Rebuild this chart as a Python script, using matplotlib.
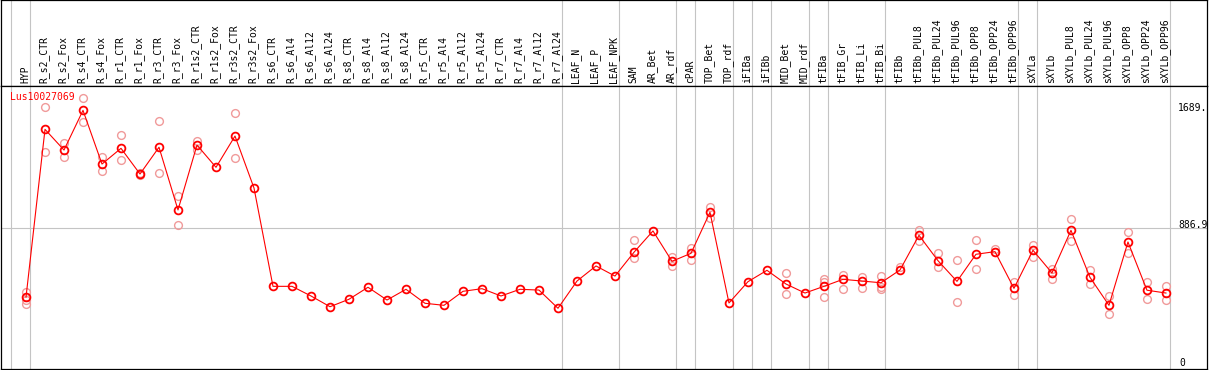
import numpy as np
import matplotlib
matplotlib.use("Agg")
import matplotlib.pyplot as plt

nan = np.nan

# column labels
samples = [
    "HYP",
    "R_s2_CTR", "R_s2_Fox", "R_s4_CTR", "R_s4_Fox", "R_r1_CTR", "R_r1_Fox",
    "R_r3_CTR", "R_r3_Fox", "R_r1s2_CTR", "R_r1s2_Fox", "R_r3s2_CTR", "R_r3s2_Fox",
    "R_s6_CTR", "R_s6_Al4", "R_s6_Al12", "R_s6_Al24", "R_s8_CTR", "R_s8_Al4",
    "R_s8_Al12", "R_s8_Al24", "R_r5_CTR", "R_r5_Al4", "R_r5_Al12", "R_r5_Al24",
    "R_r7_CTR", "R_r7_Al4", "R_r7_Al12", "R_r7_Al24",
    "LEAF_N", "LEAF_P", "LEAF_NPK",
    "SAM", "AR_Bet", "AR_rdf",
    "cPAR",
    "TOP_Bet", "TOP_rdf",
    "iFIBa",
    "iFIBb",
    "MID_Bet", "MID_rdf",
    "tFIBa",
    "tFIB_Gr", "tFIB_Li", "tFIB_Bi",
    "tFIBb", "tFIBb_PUL8", "tFIBb_PUL24", "tFIBb_PUL96", "tFIBb_OPP8",
    "tFIBb_OPP24", "tFIBb_OPP96",
    "sXYLa",
    "sXYLb", "sXYLb_PUL8", "sXYLb_PUL24", "sXYLb_PUL96", "sXYLb_OPP8",
    "sXYLb_OPP24", "sXYLb_OPP96",
]
# number of columns in each tissue group (gray separators)
group_sizes = [1, 28, 3, 3, 1, 2, 1, 1, 2, 1, 3, 7, 1, 7]

# mean expression
means = [
    442,
    1521, 1388, 1643, 1298, 1399, 1234, 1406, 1003, 1420, 1277, 1478, 1144,
    512, 512, 450, 381, 429, 506, 424, 493, 403, 390, 480, 497, 450, 493, 488, 371,
    546, 643, 578,
    731, 868, 673,
    724,
    988, 405,
    542,
    615,
    527, 469,
    512,
    557, 546, 535,
    617, 840, 677, 544, 718, 735, 499,
    744,
    598, 872, 570, 390, 797, 487, 469,
]

# replicates
rep1 = [
    474,
    1667, 1431, 1720, 1343, 1485, 1238, 1573, 1093, 1446, nan, 1626, nan,
    nan, nan, nan, nan, nan, nan, nan, nan, nan, nan, nan, nan, nan, nan, nan, nan,
    nan, nan, nan,
    808, nan, 702,
    758,
    1022, nan,
    nan,
    nan,
    596, nan,
    559,
    585, 574, 578,
    638, 874, 726, 679, 808, 754, 540,
    778,
    623, 943, 615, 448, 859, 540, 514,
]
rep2 = [
    424,
    1373, 1345, 1566, 1251, 1322, 1228, 1238, 906, 1388, nan, 1335, nan,
    nan, nan, nan, nan, nan, nan, nan, nan, nan, nan, nan, nan, nan, nan, nan, nan,
    nan, nan, nan,
    696, nan, 645,
    683,
    953, nan,
    nan,
    nan,
    461, nan,
    542,
    497, 503, 510,
    nan, 805, 634, 409, 621, 735, 454,
    702,
    561, 801, 525, 332, 728, 433, 426,
]
rep3 = [400] + [nan] * 41 + [442, nan, nan, 495] + [nan] * 15

y_max_label = "1689."
y_mid = 886.9
gene = "Lus10027069"

RED = "#ff0000"
PINK = "#f09a9a"
GRAY = "#c4c4c4"

W, H = 1209, 370
fig = plt.figure(figsize=(W / 100, H / 100), dpi=100)
head_px = 86
left, right = 1 / W, 1207 / W
ax_head = fig.add_axes([left, (H - head_px) / H, right - left, head_px / H])
ax = fig.add_axes([left, 1 / H, right - left, (H - head_px - 1) / H])

x = np.arange(len(samples))
xlim = (-1.316, 62.16)
for a in (ax_head, ax):
    a.set_xlim(*xlim)
    a.set_xticks([])
    a.set_yticks([])
    for s in a.spines.values():
        s.set_color("black")
        s.set_linewidth(0.9)

ax_head.set_ylim(0, 1)
ax.set_ylim(-19.3, 1799.6)

# group separators
bounds = [-1] + list(np.cumsum(group_sizes) - 1)
for b in bounds:
    for a in (ax_head, ax):
        a.axvline(b + 0.21, color=GRAY, lw=0.8, zorder=0)
ax.axhline(y_mid, color=GRAY, lw=0.8, zorder=0)

# labels
for xi, lab in zip(x, samples):
    ax_head.text(xi - 0.05, 0.04, lab, rotation=90, ha="center", va="bottom",
                 family="DejaVu Sans Mono", fontsize=7, color="black")

# replicates
for reps in (rep1, rep2, rep3):
    ax.plot(x, reps, ls="none", marker="o", ms=5.6, mfc="none", mec=PINK,
            mew=1.0, zorder=2)

# mean line
ax.plot(x, means, color=RED, lw=0.8, marker="o", ms=5.6, mfc="none", mec=RED,
        mew=1.3, zorder=3)

# gene name
ax.annotate(gene, xy=(0, 1), xycoords="axes fraction", xytext=(6.5, -8),
            textcoords="offset points", ha="left", va="center",
            family="DejaVu Sans Mono", fontsize=7, color=RED)

# value labels on right
tx = len(samples) - 1 + 0.63
mono = dict(family="DejaVu Sans Mono", fontsize=7, color="black", ha="left",
            va="center", textcoords="offset points")
ax.annotate(y_max_label, xy=(tx, float(y_max_label)), xytext=(0, -3.5), **mono)
ax.annotate(f"{y_mid}", xy=(tx, y_mid), xytext=(0, 2.2), **mono)
ax.annotate("0", xy=(tx + 0.1, 0), xytext=(0, 1.8), **mono)

fig.savefig("out.png", dpi=100)
